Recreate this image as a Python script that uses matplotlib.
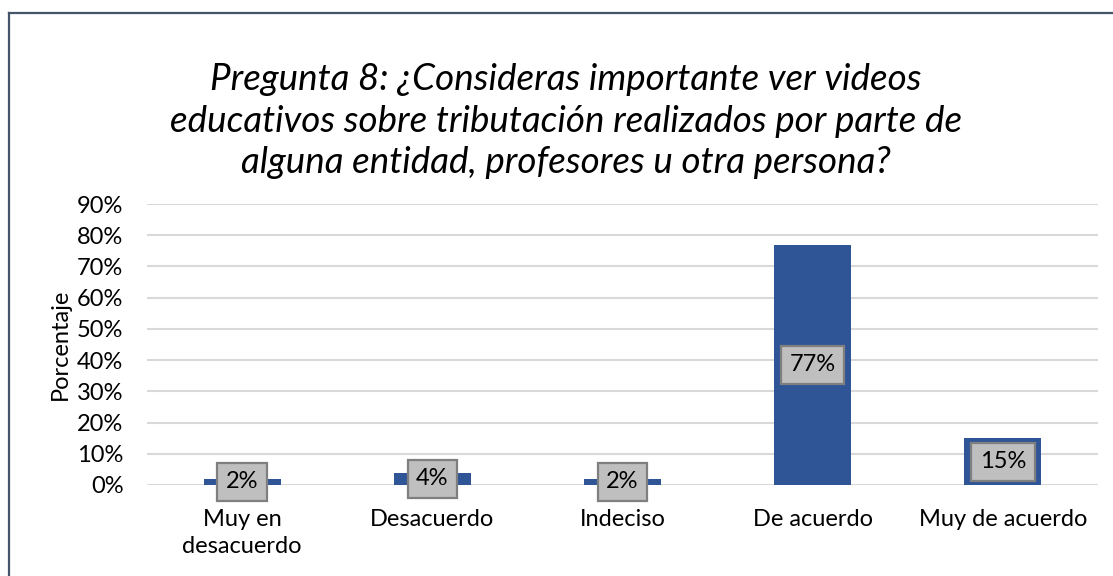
import matplotlib
matplotlib.use('Agg')
import matplotlib.pyplot as plt
from matplotlib.lines import Line2D
from matplotlib.ticker import PercentFormatter

categorias = ['Muy en\ndesacuerdo', 'Desacuerdo', 'Indeciso', 'De acuerdo', 'Muy de acuerdo']
porcentajes = [0.02, 0.04, 0.02, 0.77, 0.15]
etiquetas = ['2%', '4%', '2%', '77%', '15%']
yticks = [0.0, 0.1, 0.2, 0.3, 0.4, 0.5, 0.6, 0.7, 0.8, 0.9]

titulo = ('Pregunta 8: ¿Consideras importante ver videos\n'
          'educativos sobre tributación realizados por parte de\n'
          'alguna entidad, profesores u otra persona?')

plt.rcParams['font.family'] = ['Lato', 'DejaVu Sans']

fig = plt.figure(figsize=(11.13, 5.76), dpi=100)
ax = fig.add_axes([0.1321, 0.158, 0.8544, 0.4878])

x = range(len(categorias))
ax.bar(x, porcentajes, width=0.405, color='#2F5597', zorder=3)

for xi, v, t in zip(x, porcentajes, etiquetas):
    ax.text(xi, v / 2, t, ha='center', va='center', fontsize=17, color='#000000', zorder=4,
            bbox=dict(boxstyle='square,pad=0.36', facecolor='#BFBFBF', edgecolor='#7F7F7F', linewidth=1.6))

ax.set_xlim(-0.5, len(categorias) - 0.5)
ax.set_ylim(0, 0.9)
ax.set_yticks(yticks)
ax.yaxis.set_major_formatter(PercentFormatter(1.0, decimals=0))
ax.set_xticks(list(x))
ax.set_xticklabels(categorias, fontsize=17, linespacing=1.35)
ax.tick_params(axis='y', length=0, pad=17, labelsize=17)
ax.tick_params(axis='x', length=0, pad=17)
ax.grid(axis='y', color='#D9D9D9', linewidth=1.5, zorder=0)
for s in ax.spines.values():
    s.set_visible(False)

ax.set_ylabel('Porcentaje', fontsize=17, labelpad=4)

fig.text(566 / 1113, 1 - 121 / 576, titulo, ha='center', va='center', fontsize=26.5,
         style='italic', linespacing=1.3)

# marco del gráfico (solo arriba e izquierda visibles)
fig.add_artist(Line2D([9 / 1113, 1.0], [1 - 13 / 576, 1 - 13 / 576], color='#44546A', linewidth=1.6,
                      transform=fig.transFigure))
fig.add_artist(Line2D([9 / 1113, 9 / 1113], [0.0, 1 - 13 / 576], color='#44546A', linewidth=1.6,
                      transform=fig.transFigure))

fig.savefig('out.png', dpi=100)
